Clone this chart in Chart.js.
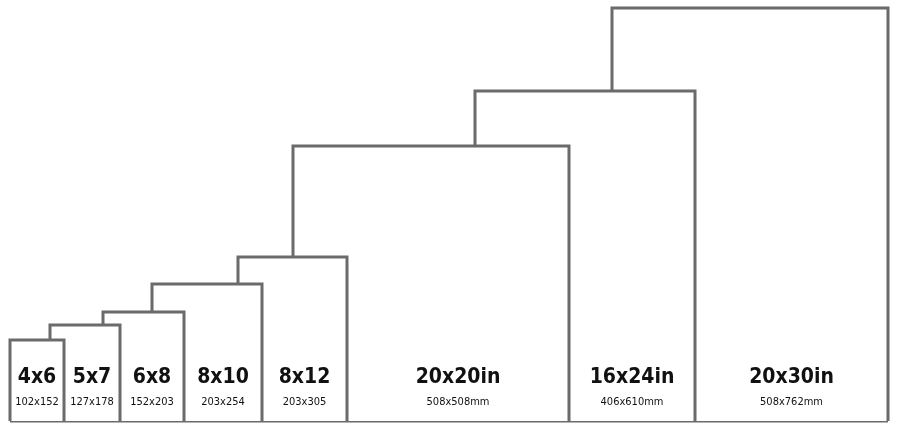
<!DOCTYPE html>
<html><head><meta charset="utf-8">
<script src="https://cdn.jsdelivr.net/npm/chart.js@4/dist/chart.umd.min.js"></script>
<style>html,body{margin:0;padding:0;background:#fff}#w{width:900px;height:441px}</style>
</head><body><div id="w"><canvas id="c"></canvas></div>
<script>
const sizes = ["4x6","5x7","6x8","8x10","8x12","20x20in","16x24in","20x30in"];
const mm = ["102x152","127x178","152x203","203x254","203x305","508x508mm","406x610mm","508x762mm"];
const lefts = [10,50,103,152,238,293,475,612];
const rights = [64,120,184,262,347,569,695,888];
const heights = [81,96,109,137,164,275,330,413];
const base = 20;
const grey = "#6b6b6b";

const datasets = sizes.map((s,i)=>({
  label:s,
  data:[{x:lefts[i],y:base},{x:lefts[i],y:base+heights[i]},{x:rights[i],y:base+heights[i]},{x:rights[i],y:base}],
  borderColor:grey,borderWidth:3,pointRadius:0,tension:0,
  fill:{target:{value:base}},backgroundColor:"#fff"
}));
datasets.push({label:"base",data:[{x:lefts[0],y:base},{x:rights[7],y:base}],borderColor:grey,borderWidth:3,pointRadius:0,fill:false});

const labelsPlugin={id:"lbl",afterDatasetsDraw(ch){
  const ctx=ch.ctx,xs=ch.scales.x,ys=ch.scales.y;
  ctx.save();ctx.fillStyle="#111";ctx.textAlign="center";ctx.textBaseline="middle";
  sizes.forEach((s,i)=>{
    const l=i===0?lefts[0]:rights[i-1];
    const cx=xs.getPixelForValue((l+rights[i])/2);
    ctx.font="bold 21px 'DejaVu Sans Condensed','DejaVu Sans'";
    ctx.fillText(s,cx,ys.getPixelForValue(base+43));
    ctx.font="11px 'DejaVu Sans Condensed','DejaVu Sans'";
    ctx.fillText(mm[i],cx,ys.getPixelForValue(base+19));
  });
  ctx.restore();}};

new Chart(document.getElementById("c"),{
  type:"line",data:{datasets},
  options:{responsive:true,maintainAspectRatio:false,animation:false,
    layout:{padding:0},
    scales:{x:{type:"linear",min:0,max:900,display:false},y:{min:0,max:441,display:false}},
    plugins:{legend:{display:false},tooltip:{enabled:false},filler:{drawTime:"beforeDatasetDraw"}}},
  plugins:[labelsPlugin]});
</script></body></html>
